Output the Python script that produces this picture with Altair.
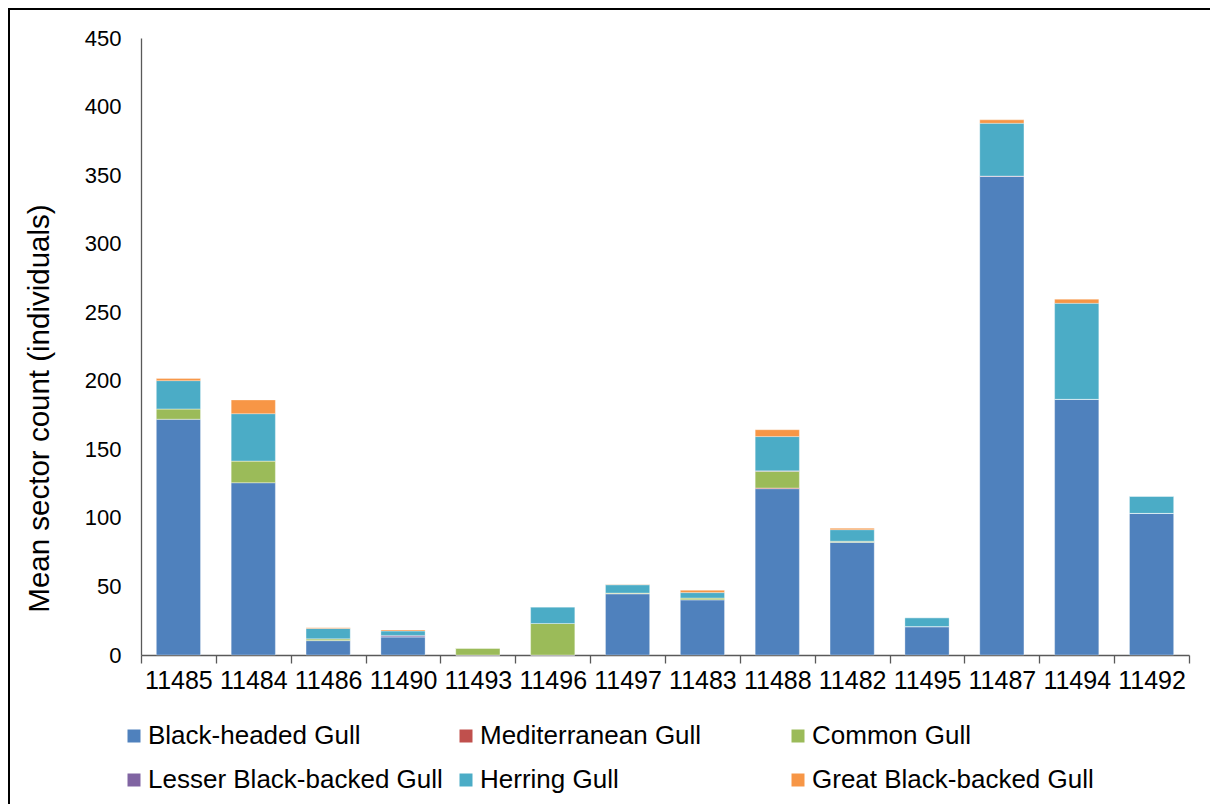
import altair as alt
import pandas as pd

sectors = ["11485", "11484", "11486", "11490", "11493", "11496", "11497",
           "11483", "11488", "11482", "11495", "11487", "11494", "11492"]
species = ["Black-headed Gull", "Mediterranean Gull", "Common Gull",
           "Lesser Black-backed Gull", "Herring Gull", "Great Black-backed Gull"]
colors = ["#4F81BD", "#C0504D", "#9BBB59", "#8064A2", "#4BACC6", "#F79646"]

black_headed = [172, 125.7, 10.5, 13.3, 0, 0, 44.7, 40.3, 121.3, 82.2, 20.7, 349, 186.5, 103.3]
mediterranean = [0, 0, 0, 0, 0, 0, 0, 0, 0.5, 0, 0, 0, 0, 0]
common = [7.5, 15.8, 1.3, 0, 5.1, 23, 0.5, 1.3, 12.2, 0.8, 0, 0, 0, 0]
lesser_bb = [0, 0, 0, 1.0, 0, 0, 0, 0, 0.3, 0, 0, 0.3, 0, 0]
herring = [20.6, 34.5, 7.5, 3.2, 0, 12, 6, 3.9, 25, 8.4, 6.5, 38.5, 70, 12.4]
great_bb = [1.5, 10, 0.6, 0.7, 0, 0, 0.3, 1.7, 5, 1.0, 0, 2.5, 3, 0]

series = [black_headed, mediterranean, common, lesser_bb, herring, great_bb]

rows = []
for si, (name, vals) in enumerate(zip(species, series)):
    for sec, v in zip(sectors, vals):
        rows.append({"sector": sec, "species": name, "count": v, "idx": si})
df = pd.DataFrame(rows)

# the legend grid is filled column by column (2 rows), so reorder the
# domain so that it reads row by row like the original
legend_order = [0, 3, 1, 4, 2, 5]
dom = [species[i] for i in legend_order]
rng = [colors[i] for i in legend_order]

FONT = "Liberation Sans"
AXIS_COLOR = "#595959"

bars = alt.Chart(df).mark_bar(
    width={"band": 0.59}, stroke="white", strokeWidth=0.7, strokeOpacity=0.45
).encode(
    x=alt.X("sector:N", sort=sectors,
            scale=alt.Scale(paddingInner=0, paddingOuter=0),
            axis=alt.Axis(title=None, labelAngle=0, tickBand="extent",
                          grid=False,
                          tickSize=8, labelPadding=5, labelFontSize=25,
                          labelFont=FONT, labelColor="black",
                          domainColor=AXIS_COLOR, tickColor=AXIS_COLOR,
                          domainWidth=1.3, tickWidth=1.3)),
    y=alt.Y("count:Q", stack="zero",
            scale=alt.Scale(domain=[0, 450], nice=False),
            axis=alt.Axis(values=list(range(0, 451, 50)), ticks=False,
                          grid=False, labelPadding=20, labelFontSize=22,
                          labelFont=FONT, labelColor="black",
                          domainColor=AXIS_COLOR, domainWidth=1.3,
                          title="Mean sector count (individuals)",
                          titleFont=FONT, titleFontSize=29.5,
                          titleFontWeight="normal", titleColor="black",
                          titleX=-102, titleY=370, titleAngle=-90,
                          titleAlign="center", titleBaseline="middle")),
    color=alt.Color("species:N",
                    scale=alt.Scale(domain=dom, range=rng),
                    legend=alt.Legend(title=None, orient="none",
                                      legendX=-20, legendY=685,
                                      columns=3, gridAlign="all",
                                      columnPadding=10, rowPadding=18,
                                      symbolType="square", symbolSize=169,
                                      symbolStrokeWidth=0, labelOffset=1,
                                      labelFont=FONT, labelFontSize=26,
                                      labelColor="black", labelLimit=400)),
    order=alt.Order("idx:Q", sort="ascending"),
)

frame_data = alt.Data(values=[{"a": 1}])
left_border = alt.Chart(frame_data).mark_rule(color="black", strokeWidth=2).encode(
    x=alt.value(-132), y=alt.value(-31), y2=alt.value(780))
top_border = alt.Chart(frame_data).mark_rule(color="black", strokeWidth=2).encode(
    y=alt.value(-29), x=alt.value(-133), x2=alt.value(1080))

chart = alt.layer(bars, left_border, top_border).properties(
    width=1048, height=617,
    background="white",
    autosize=alt.AutoSizeParams(type="none"),
    padding={"left": 133, "top": 30, "right": 21, "bottom": 149},
).configure_view(stroke=None, strokeWidth=0).configure_axis(grid=False)

chart.save("out.html", embed_options={"renderer": "svg", "actions": False})
